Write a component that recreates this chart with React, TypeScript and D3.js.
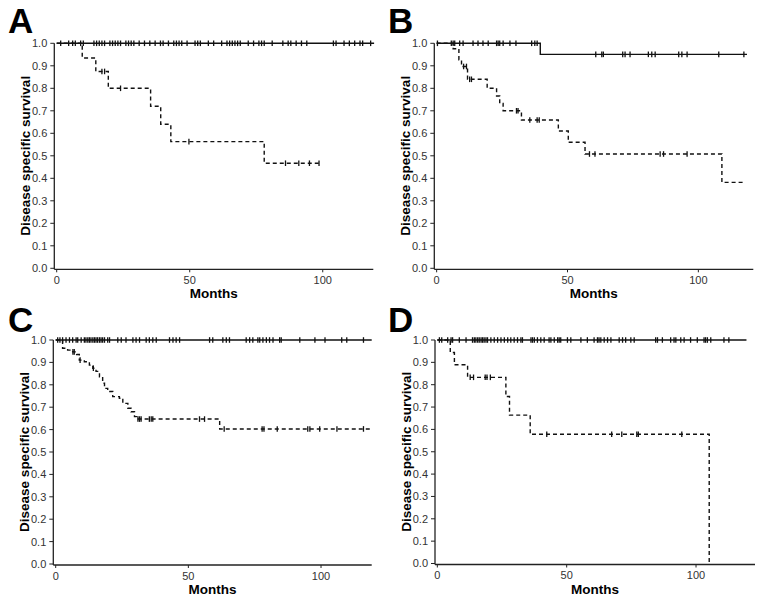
import React from "react";
import * as d3 from "d3";

// ---------- tick values ----------
const monthTicks = [0, 50, 100];
const survivalTicks = [0, 0.1, 0.2, 0.3, 0.4, 0.5, 0.6, 0.7, 0.8, 0.9, 1.0];
const xTitle = "Months";
const yTitle = "Disease specific survival";
const panelLabels = ["A", "B", "C", "D"];

// ---------- Panel A ----------
const aSolidSteps: [number, number][] = [];
const aSolidEnd = 119.3;
const aSolidCensor = [1.5, 4.5, 6, 7, 9, 10, 14, 15, 16, 17, 18, 20, 21, 22, 23, 24, 26, 27, 28, 29, 31, 33, 35, 37, 39, 40, 42, 44, 45, 46, 47, 49, 52, 53, 54, 57, 59, 62, 64, 65, 66, 67, 68, 69, 72, 74, 76, 77, 78, 81, 85, 87, 88, 90, 92, 94, 104, 105, 108, 110, 112, 114, 115, 118];
const aDashSteps: [number, number][] = [[9.6, 0.935], [14.7, 0.875], [19.4, 0.8], [35.3, 0.72], [39.1, 0.64], [42.9, 0.563], [78, 0.467]];
const aDashEnd = 98.6;
const aDashCensor = [17, 18, 24, 49.7, 86, 91, 95, 98.6];

// ---------- Panel B ----------
const bSolidSteps: [number, number][] = [[39.6, 0.951]];
const bSolidEnd = 118.6;
const bSolidCensor = [0.3, 5.6, 6.3, 6.9, 8.8, 10.1, 13.9, 15.8, 17.7, 19.7, 22.9, 23.5, 24.1, 25.4, 28, 30.3, 36.3, 37.5, 38.4, 60.8, 63.1, 63.7, 71.1, 72, 73.9, 80.9, 82.2, 83.5, 92.5, 93.7, 95.7, 107.8, 117.4];
const bDashSteps: [number, number][] = [[6.3, 0.976], [8.5, 0.927], [9.5, 0.897], [11.8, 0.84], [19.3, 0.8], [22.9, 0.766], [24.1, 0.733], [25.4, 0.7], [32.4, 0.659], [46.5, 0.61], [50.3, 0.56], [56.7, 0.508], [109, 0.382]];
const bDashEnd = 118;
const bDashCensor = [10.3, 11.4, 12.6, 13.3, 30.5, 31.1, 35.6, 38.4, 39.2, 58.4, 60.5, 85.4, 86.7, 95.7];

// ---------- Panel C ----------
const cSolidSteps: [number, number][] = [];
const cSolidEnd = 119.1;
const cSolidCensor = [0.75, 1.6, 2.6, 3.9, 5.2, 6.4, 7.7, 8.3, 9.6, 10.8, 11.4, 12.1, 12.7, 13.3, 14, 14.6, 15.2, 15.8, 16.5, 17.1, 17.7, 18.4, 19.6, 20.3, 23.4, 24.7, 26.5, 29.1, 30.3, 31.6, 34.1, 35.3, 36.6, 37.9, 42.9, 44.2, 45.4, 46.7, 58, 59.2, 63, 64.3, 65.5, 71.8, 73.1, 74.3, 76.2, 76.9, 78.1, 79.4, 80.6, 81.9, 84.4, 85, 92, 97.7, 101.5, 107.8, 109.7, 116];
const cDashSteps: [number, number][] = [[2.6, 0.963], [4.5, 0.955], [6.4, 0.947], [7.9, 0.935], [8.9, 0.91], [10.8, 0.903], [12.7, 0.888], [14, 0.874], [15.2, 0.86], [16.5, 0.836], [17.7, 0.807], [18.4, 0.784], [19.6, 0.77], [21.5, 0.747], [24, 0.74], [25.3, 0.717], [27.2, 0.695], [28.4, 0.68], [29.7, 0.658], [30.5, 0.647], [61.8, 0.603]];
const cDashEnd = 119.1;
const cDashCensor = [6.5, 7, 9.2, 14.2, 31, 31.6, 32.2, 35.3, 36, 36.6, 54.2, 56.1, 63.5, 77.8, 78.5, 83.5, 95, 95.8, 99.5, 106, 116];

// ---------- Panel D ----------
const dSolidSteps: [number, number][] = [];
const dSolidEnd = 119.5;
const dSolidCensor = [0.8, 1.7, 4, 5.3, 5.9, 8.5, 11.1, 13.6, 14.3, 14.9, 15.6, 16.2, 16.9, 17.5, 18.1, 18.8, 19.4, 20.7, 22, 23.3, 24.6, 25.9, 27.2, 28.4, 29.7, 31, 32.3, 32.9, 36.2, 36.8, 37.5, 38.7, 40, 41.3, 43.2, 43.9, 45.2, 46.5, 47.1, 47.7, 50.3, 51.6, 55.5, 58, 60.6, 61.9, 62.5, 63.2, 64.5, 65.8, 67.1, 70.3, 71.6, 72.8, 74.8, 76.1, 84.4, 85.1, 87, 90.2, 91.5, 92.2, 94.1, 95.4, 97.9, 100.5, 103.1, 103.7, 104.4, 105.7, 110.8, 112.7];
const dDashSteps: [number, number][] = [[5.0, 0.944], [6.6, 0.889], [11.7, 0.833], [26.5, 0.747], [27.9, 0.664], [35.9, 0.578], [105.1, 0]];
const dDashEnd = 105.1;
const dDashCensor = [12.7, 14, 18.5, 19.2, 20.5, 42.3, 67.4, 71.3, 77.1, 77.7, 94.5];

// ---------- layout (pixels) ----------
const W = 762;
const H = 602;
const layout = [
  { lx: 8, ly: 33, left: 54.3, right: 373.3, xmax: 119, top: 43.3, bottom: 268.3 },
  { lx: 388, ly: 33, left: 434.3, right: 753.3, xmax: 121, top: 43.3, bottom: 268.3 },
  { lx: 8, ly: 332, left: 53.3, right: 371.7, xmax: 119.1, top: 340, bottom: 564 },
  { lx: 388, ly: 332, left: 435, right: 755, xmax: 122.8, top: 340, bottom: 563.5 },
];

type Curve = { steps: [number, number][]; end: number; censor: number[]; dashed: boolean };
const panelCurves: Curve[][] = [
  [
    { steps: aSolidSteps, end: aSolidEnd, censor: aSolidCensor, dashed: false },
    { steps: aDashSteps, end: aDashEnd, censor: aDashCensor, dashed: true },
  ],
  [
    { steps: bSolidSteps, end: bSolidEnd, censor: bSolidCensor, dashed: false },
    { steps: bDashSteps, end: bDashEnd, censor: bDashCensor, dashed: true },
  ],
  [
    { steps: cSolidSteps, end: cSolidEnd, censor: cSolidCensor, dashed: false },
    { steps: cDashSteps, end: cDashEnd, censor: cDashCensor, dashed: true },
  ],
  [
    { steps: dSolidSteps, end: dSolidEnd, censor: dSolidCensor, dashed: false },
    { steps: dDashSteps, end: dDashEnd, censor: dDashCensor, dashed: true },
  ],
];

const FONT = "'Liberation Sans', Arial, Helvetica, sans-serif";

function survAt(steps: [number, number][], t: number) {
  let s = 1;
  for (const [tt, v] of steps) {
    if (tt <= t) s = v;
  }
  return s;
}

function Panel({ idx }: { idx: number }) {
  const L = layout[idx];
  const x = d3.scaleLinear().domain([-0.9, L.xmax]).range([L.left, L.right]);
  const y = d3.scaleLinear().domain([0, 1]).range([L.bottom, L.top]);
  const axisY = L.bottom + 1;
  const line = d3
    .line<[number, number]>()
    .x((d) => x(d[0]))
    .y((d) => y(d[1]))
    .curve(d3.curveStepAfter);
  const curves = panelCurves[idx];
  const midY = (L.top + L.bottom) / 2;
  const midX = (L.left + L.right) / 2;
  return (
    <g>
      <text x={L.lx} y={L.ly} fontFamily={FONT} fontWeight="bold" fontSize={35} fill="#000">
        {panelLabels[idx]}
      </text>
      {/* axes */}
      <line x1={L.left} x2={L.left} y1={y(1)} y2={axisY} stroke="#222" strokeWidth={1.3} />
      <line x1={L.left} x2={L.right} y1={axisY} y2={axisY} stroke="#222" strokeWidth={1.3} />
      {survivalTicks.map((t) => (
        <g key={"y" + t}>
          <line x1={L.left - 4} x2={L.left} y1={y(t)} y2={y(t)} stroke="#222" strokeWidth={1} />
          <text
            x={L.left - 7}
            y={y(t)}
            dy="0.36em"
            textAnchor="end"
            fontFamily={FONT}
            fontSize={11}
            fill="#333"
          >
            {d3.format(".1f")(t)}
          </text>
        </g>
      ))}
      {monthTicks.map((t) => (
        <g key={"x" + t}>
          <line x1={x(t)} x2={x(t)} y1={axisY} y2={axisY + 3} stroke="#222" strokeWidth={1} />
          <text
            x={x(t)}
            y={axisY + 14.5}
            textAnchor="middle"
            fontFamily={FONT}
            fontSize={11}
            fill="#333"
          >
            {t}
          </text>
        </g>
      ))}
      <text
        x={midX}
        y={L.bottom + 30}
        textAnchor="middle"
        fontFamily={FONT}
        fontWeight="bold"
        fontSize={13.5}
        fill="#000"
      >
        {xTitle}
      </text>
      <text
        transform={`translate(${L.left - 24.5},${midY}) rotate(-90)`}
        textAnchor="middle"
        fontFamily={FONT}
        fontWeight="bold"
        fontSize={13.5}
        fill="#000"
      >
        {yTitle}
      </text>
      {/* curves */}
      {curves.map((c, ci) => {
        const last = c.steps.length ? c.steps[c.steps.length - 1][1] : 1;
        const pts: [number, number][] = [[0, 1], ...c.steps, [c.end, last]];
        return (
          <g key={"c" + ci}>
            <path
              d={line(pts) || ""}
              fill="none"
              stroke="#111"
              strokeWidth={1.4}
              strokeDasharray={c.dashed ? "4,3" : undefined}
            />
            {c.censor.map((t, k) => {
              const s = survAt(c.steps, t);
              return (
                <line
                  key={k}
                  x1={x(t)}
                  x2={x(t)}
                  y1={y(s) - 2.8}
                  y2={y(s) + 2.8}
                  stroke="#111"
                  strokeWidth={1.3}
                />
              );
            })}
          </g>
        );
      })}
    </g>
  );
}

export default function App() {
  return (
    <svg
      width={W}
      height={H}
      style={{ position: "absolute", left: 0, top: 0, background: "#fff" }}
    >
      <rect x={0} y={0} width={W} height={H} fill="#fff" />
      {[0, 1, 2, 3].map((i) => (
        <Panel key={i} idx={i} />
      ))}
    </svg>
  );
}
